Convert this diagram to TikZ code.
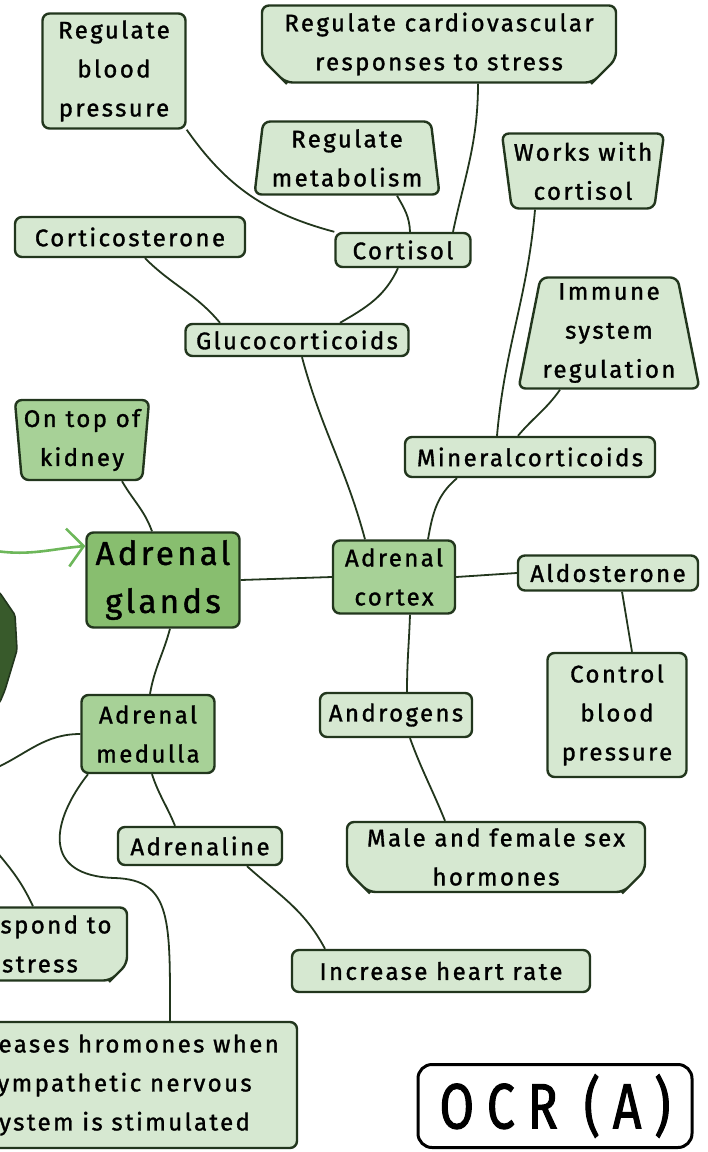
\documentclass[tikz,border=0pt]{standalone}
\usepackage{fontspec}
\setmainfont{Fira Sans}[LetterSpace=10,FakeBold=1.3]
\newfontfamily\ocrfont{Fira Sans}[LetterSpace=20,FakeStretch=0.78,FakeBold=1.6]
\usetikzlibrary{shapes.geometric,shapes.misc,arrows.meta}
\definecolor{leaf}{HTML}{D6E8D1}
\definecolor{leafmid}{HTML}{A7D197}
\definecolor{leafdark}{HTML}{88BE6F}
\definecolor{ink}{HTML}{22361D}
\definecolor{sprout}{HTML}{6DB75A}
\definecolor{blob}{HTML}{385A2B}
\tikzset{
  box/.style={draw=ink, line width=2.4pt, fill=leaf, rounded corners=7pt, align=center,
    inner sep=2pt, font=\fontsize{24}{39}\selectfont},
  midbox/.style={box, fill=leafmid},
  bigbox/.style={box, fill=leafdark, font=\fontsize{33}{48}\selectfont},
  trap/.style={trapezium, trapezium stretches body, trapezium left angle=#1, trapezium right angle=#1},
  link/.style={draw=ink, line width=1.8pt},
}

\begin{document}
\begin{tikzpicture}[x=1pt,y=-1pt]
		%%%%% START %%%%%
		\useasboundingbox (0,0) rectangle (708,1152);
		
		\draw[fill=blob, draw=ink, line width=1.6pt, rounded corners=2pt] (-6,588) -- (0,593) -- (15,615) -- (17,650) -- (5,690) -- (0,702) -- (-6,708) -- cycle;
		
		\node[box, minimum width=143pt, minimum height=115pt] (bloodp) at (114,71) {Regulate\\blood\\pressure};
		\node[box, chamfered rectangle, chamfered rectangle corners={south west,south east}, chamfered rectangle xsep=20pt, minimum width=354pt, minimum height=77pt] (cardio) at (439,44) {Regulate cardiovascular\\responses to stress};
		\node[box, trap=82, minimum width=185pt, minimum height=73pt] (metab) at (347,158) {Regulate\\metabolism};
		\node[box, minimum width=135pt, minimum height=34pt] (cortisol) at (403,250) {Cortisol};
		\node[box, minimum width=230pt, minimum height=40pt] (cortico) at (130,237) {Corticosterone};
		\node[box, minimum width=223pt, minimum height=32pt] (gluco) at (297,340) {Glucocorticoids};
		\node[box, trap=81, shape border rotate=180, minimum width=160pt, minimum height=75pt] (works) at (583,171) {Works with\\cortisol};
		\node[box, trap=78, minimum width=163pt, minimum height=111pt] (immune) at (609,333) {Immune\\system\\regulation};
		\node[box, minimum width=250pt, minimum height=40pt] (mineral) at (530,457) {Mineralcorticoids};
		
		\node[midbox, trap=84, shape border rotate=180, minimum width=131pt, minimum height=80pt] (kidney) at (82,440) {On top of\\kidney};
		\node[bigbox, minimum width=153pt, minimum height=95pt] (glands) at (163,580) {Adrenal\\glands};
		\node[midbox, minimum width=122pt, minimum height=73pt] (cortex) at (394,577) {Adrenal\\cortex};
		\node[box, minimum width=180pt, minimum height=35pt] (aldo) at (608,573) {Aldosterone};
		\node[box, minimum width=139pt, minimum height=124pt] (control) at (617,715) {Control\\blood\\pressure};
		\node[box, minimum width=152pt, minimum height=44pt] (androgens) at (396,715) {Androgens};
		\node[box, chamfered rectangle, chamfered rectangle corners={south west,south east}, chamfered rectangle xsep=18pt, minimum width=298pt, minimum height=70pt] (sexhorm) at (496,857) {Male and female sex\\hormones};
		
		\node[midbox, minimum width=133pt, minimum height=78pt] (medulla) at (148,734) {Adrenal\\medulla};
		\node[box, minimum width=164pt, minimum height=38pt] (adrenaline) at (200,846) {Adrenaline};
		\node[box, minimum width=298pt, minimum height=42pt] (heart) at (441,971) {Increase heart rate};
		\node[box, chamfered rectangle, chamfered rectangle corners=south east, chamfered rectangle xsep=13pt, minimum width=174pt, minimum height=73pt] (respond) at (40,944) {Respond to\\stress};
		\node[box, minimum width=358pt, minimum height=126pt] (releases) at (118,1085) {Releases hromones when\\sympathetic nervous\\system is stimulated};
		
		\node[draw=black, line width=3pt, fill=white, rounded corners=14pt, minimum width=274pt, minimum height=83pt, font=\ocrfont\fontsize{64}{66}\selectfont] (exam) at (555,1106) {OCR (A)};
		
		\coordinate (offmed) at (-4,768);
		\coordinate (offresp) at (-4,851);
		\coordinate (offarrow) at (-4,551);
		
		\draw[link] (bloodp.south east) to[out=-55,in=165] (cortisol.north west);
		\draw[link] ([xshift=39pt]cardio.south) to[out=-90,in=78] ([xshift=50pt]cortisol.north);
		\draw[link] ([xshift=50pt]metab.south) to[out=-60,in=92] ([xshift=7pt]cortisol.north);
		\draw[link] ([xshift=-5pt]cortisol.south) to[out=-115,in=30] ([xshift=43pt]gluco.north);
		\draw[link] ([xshift=15pt]cortico.south) to[out=-45,in=130] ([xshift=-77pt]gluco.north);
		\draw[link] ([xshift=5pt]gluco.south) to[out=-75,in=105] ([xshift=-29pt]cortex.north);
		\draw[link] ([xshift=-48pt]works.south) to[out=-95,in=85] ([xshift=-33pt]mineral.north);
		\draw[link] ([xshift=-49pt]immune.south) to[out=-125,in=50] ([xshift=-12pt]mineral.north);
		\draw[link] ([xshift=-73pt]mineral.south) to[out=-140,in=80] ([xshift=34pt]cortex.north);
		\draw[link] ([xshift=40pt]kidney.south) to[out=-60,in=110] ([xshift=-11pt]glands.north);
		\draw[link] (glands.east) -- (cortex.west);
		\draw[link] (cortex.east) -- (aldo.west);
		\draw[link] ([xshift=14pt]aldo.south) -- ([xshift=15pt]control.north);
		\draw[link] ([xshift=16pt]cortex.south) to[out=-92,in=90] ([xshift=11pt]androgens.north);
		\draw[link] ([xshift=14pt]androgens.south) to[out=-70,in=112] ([xshift=-51pt]sexhorm.north);
		\draw[link] ([xshift=7pt]glands.south) to[out=-105,in=80] ([xshift=2pt]medulla.north);
		\draw[link] (medulla.west) to[out=180,in=25] (offmed);
		\draw[link] ([xshift=-60pt]medulla.south) .. controls (52,820) and (40,876) .. (115,878) .. controls (172,880) and (170,920) .. ([xshift=52pt]releases.north);
		\draw[link] (offresp) to[out=-50,in=115] ([xshift=-7pt]respond.north);
		\draw[link] ([xshift=4pt]medulla.south) to[out=-72,in=112] ([xshift=-25pt]adrenaline.north);
		\draw[link] ([xshift=47pt]adrenaline.south) to[out=-42,in=118] ([xshift=-116pt]heart.north);
		
		\draw[sprout, line width=2.6pt, -{Straight Barb[length=16pt,width=38pt,line width=2.6pt]}] (offarrow) to[out=-8,in=185] ([yshift=34pt]glands.west);
		%%%%% END %%%%%
\end{tikzpicture}
\end{document}
